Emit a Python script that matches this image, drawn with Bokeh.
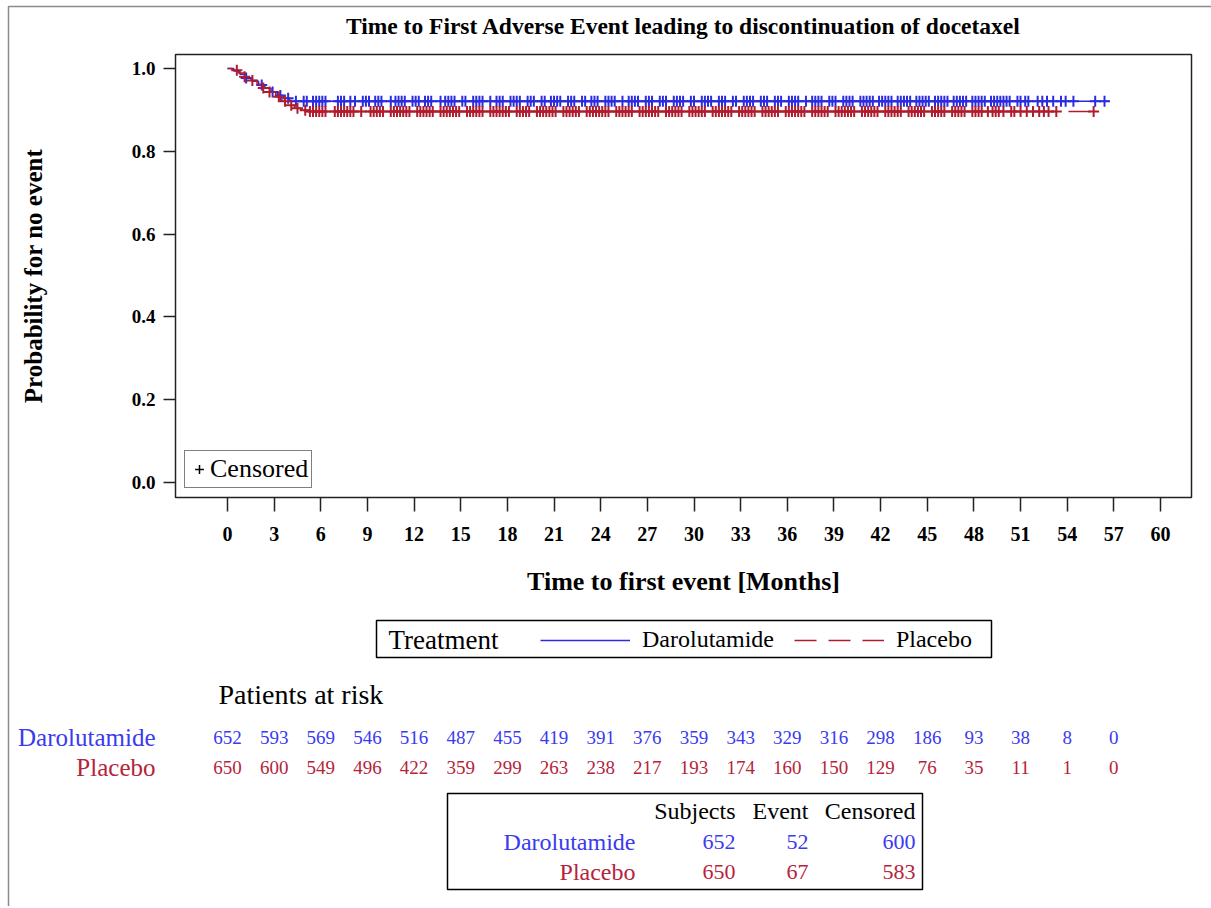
import numpy as np
from bokeh.plotting import figure
from bokeh.models import Range1d, Legend, LegendItem, FixedTicker, ColumnDataSource
from bokeh.embed import file_html
from bokeh.resources import INLINE
from bokeh.core.properties import value

# ---------------- data ----------------
TITLE = "Time to First Adverse Event leading to discontinuation of docetaxel"

x_ticks = [0, 3, 6, 9, 12, 15, 18, 21, 24, 27, 30, 33, 36, 39, 42, 45, 48, 51, 54, 57, 60]
y_ticks = [0.0, 0.2, 0.4, 0.6, 0.8, 1.0]
y_tick_labels = ["0.0", "0.2", "0.4", "0.6", "0.8", "1.0"]

groups = ["Darolutamide", "Placebo"]

daro_t = [0, 0.4, 0.8, 1.2, 1.6, 2.0, 2.4, 2.8, 3.2, 3.6, 4.0, 56.7]
daro_s = [1.0, 0.994, 0.986, 0.977, 0.969, 0.960, 0.952, 0.943, 0.935, 0.928, 0.921, 0.921]

plac_t = [0, 0.3, 0.7, 1.1, 1.5, 1.9, 2.3, 2.7, 3.1, 3.5, 3.9, 4.3, 4.7, 5.2, 56.0]
plac_s = [1.0, 0.996, 0.989, 0.980, 0.971, 0.962, 0.953, 0.943, 0.932, 0.921, 0.911, 0.904, 0.899, 0.896, 0.896]

daro_cens = [1.2, 2.2, 2.9, 3.4, 3.9, 4.4,
             4.9, 5.1, 5.5, 5.7, 5.9, 6.1, 6.3, 7.1, 7.3, 7.5, 7.9, 8.2, 8.7, 8.9, 9.1,
             9.5, 9.7, 9.9, 10.5, 10.8, 11.0, 11.2, 11.4, 11.9, 12.1, 12.3, 12.7, 12.9,
             13.1, 13.7, 14.0, 14.2, 14.4, 14.6, 15.1, 15.3, 15.8, 16.0, 16.2, 16.4, 16.9,
             17.3, 17.5, 17.7, 18.2, 18.4, 18.6, 18.8, 19.3, 19.5, 19.7, 20.2, 20.4, 20.8,
             21.0, 21.2, 21.4, 21.9, 22.1, 22.3, 22.8, 23.0, 23.4, 23.6, 23.8, 24.3, 24.5,
             24.7, 24.9, 25.4, 25.8, 26.0, 26.2, 26.4, 26.9, 27.1, 27.3, 27.8, 28.0, 28.2,
             28.7, 28.9, 29.1, 29.3, 29.8, 30.0, 30.5, 30.7, 30.9, 31.1, 31.6, 31.8, 32.0,
             32.5, 32.7, 33.2, 33.4, 33.6, 33.8, 34.3, 34.5, 34.7, 35.2, 35.4, 35.6, 36.1,
             36.3, 36.5, 36.7, 37.2, 37.6, 37.8, 38.0, 38.2, 38.7, 38.9, 39.1, 39.6, 39.8,
             40.0, 40.2, 40.7, 40.9, 41.1, 41.3, 41.5, 41.9, 42.1, 42.3, 42.5, 42.7, 43.1,
             43.3, 43.5, 43.7, 43.9, 44.3, 44.5, 44.7, 44.9, 45.1, 45.5, 45.7, 45.9, 46.1,
             46.3, 46.7, 46.9, 47.1, 47.3, 47.5, 47.9, 48.1, 48.3, 48.5, 48.7, 49.1, 49.3,
             49.5, 49.7, 49.9, 50.1, 50.3, 50.8, 51.0, 51.3, 51.5, 52.1, 52.4, 52.7, 53.1,
             53.6, 53.9, 54.4, 55.8, 56.4]

plac_cens = [0.6, 1.1, 1.6, 2.3, 2.7, 3.3, 3.7, 4.1, 4.5, 5.0,
             5.3, 5.5, 5.7, 5.9, 6.1, 6.3, 6.9, 7.1, 7.3, 7.5, 7.7, 7.9, 8.1, 8.6, 9.2,
             9.4, 9.6, 9.8, 10.0, 10.5, 10.7, 10.9, 11.1, 11.3, 11.5, 11.7, 12.2, 12.4,
             12.6, 12.8, 13.0, 13.2, 13.7, 13.9, 14.1, 14.3, 14.5, 14.7, 14.9, 15.4, 15.6,
             15.8, 16.0, 16.2, 16.4, 16.9, 17.1, 17.3, 17.5, 17.7, 17.9, 18.1, 18.6, 18.8,
             19.0, 19.2, 19.4, 19.9, 20.1, 20.3, 20.5, 20.7, 20.9, 21.1, 21.6, 21.8, 22.0,
             22.2, 22.4, 22.6, 23.1, 23.3, 23.5, 23.7, 23.9, 24.1, 24.3, 24.5, 25.0, 25.2,
             25.4, 25.6, 25.8, 26.0, 26.5, 26.7, 26.9, 27.1, 27.3, 27.5, 27.7, 28.2, 28.4,
             28.6, 28.8, 29.0, 29.2, 29.7, 29.9, 30.1, 30.3, 30.5, 30.7, 31.2, 31.4, 31.6,
             31.8, 32.0, 32.2, 32.4, 32.9, 33.1, 33.3, 33.5, 33.7, 33.9, 34.4, 34.6, 34.8,
             35.0, 35.2, 35.4, 35.9, 36.1, 36.3, 36.5, 36.7, 36.9, 37.1, 37.6, 37.8, 38.0,
             38.2, 38.4, 38.6, 39.1, 39.3, 39.5, 39.7, 39.9, 40.1, 40.3, 40.8, 41.0, 41.2,
             41.4, 41.6, 41.8, 42.3, 42.5, 42.7, 42.9, 43.1, 43.3, 43.8, 44.0, 44.2, 44.4,
             44.6, 44.8, 45.3, 45.5, 45.7, 45.9, 46.1, 46.6, 46.8, 47.0, 47.2, 47.4, 47.9,
             48.1, 48.3, 48.5, 48.9, 49.2, 49.4, 49.6, 49.9, 50.4, 50.6, 51.0, 51.4, 51.8,
             52.2, 52.5, 52.8, 53.3, 55.7]

risk_times = [0, 3, 6, 9, 12, 15, 18, 21, 24, 27, 30, 33, 36, 39, 42, 45, 48, 51, 54, 57]
risk_daro = [652, 593, 569, 546, 516, 487, 455, 419, 391, 376, 359, 343, 329, 316, 298, 186, 93, 38, 8, 0]
risk_plac = [650, 600, 549, 496, 422, 359, 299, 263, 238, 217, 193, 174, 160, 150, 129, 76, 35, 11, 1, 0]

summary_cols = ["Subjects", "Event", "Censored"]
subjects = [652, 650]
events = [52, 67]
censored = [600, 583]

# ---------------- style / layout (page pixels) ----------------
FONT = "Liberation Serif"
BLUE = "#2b2bdf"
RED = "#ae1c2e"
BLUE_TXT = "#3a3af0"
RED_TXT = "#b5243a"
W, H = 1211, 906
X0_PX, PX_PER_MONTH = 227.0, 15.55      # page x of month 0, pixels per month
Y1_PX, Y0_PX = 68.0, 482.0              # page y of probability 1.0 and 0.0
BOX_L, BOX_R, BOX_T, BOX_B = 175, 1191, 54, 497
NAN = float("nan")


def mx(px):
    return (px - X0_PX) / PX_PER_MONTH


def my(py):
    return (Y0_PX - py) / (Y0_PX - Y1_PX)


def surv_at(times, surv, t):
    times = np.asarray(times)
    surv = np.asarray(surv)
    idx = np.searchsorted(times, np.asarray(t), side="right") - 1
    return surv[idx]


p = figure(width=W, height=H, output_backend="svg", toolbar_location=None,
           x_range=Range1d(mx(0), mx(W)), y_range=Range1d(my(H), my(0)),
           min_border=0, min_border_left=0, min_border_right=0,
           min_border_top=0, min_border_bottom=0)
p.extra_x_ranges = {"px": Range1d(0, W)}
p.extra_y_ranges = {"py": Range1d(H, 0)}
p.background_fill_color = "white"
p.border_fill_color = "white"
p.outline_line_color = None
p.xgrid.visible = False
p.ygrid.visible = False

# page border (top / left)
p.line(x=[8, 8, W], y=[H, 6, 6], x_range_name="px", y_range_name="py",
       line_color="#8a8a8a", line_width=1.5)

# title
p.text(x=[683], y=[25], text=[TITLE], x_range_name="px", y_range_name="py",
       text_align="center", text_baseline="middle", text_font=value(FONT),
       text_font_size="23.5px", text_font_style="bold", text_color="black")

# plot box
p.quad(left=[BOX_L], right=[BOX_R], top=[BOX_T], bottom=[BOX_B],
       x_range_name="px", y_range_name="py", fill_color=None,
       line_color="#222222", line_width=1.5)

# axes at the box edges
p.xaxis.fixed_location = my(BOX_B)
p.yaxis.fixed_location = mx(BOX_L)
p.xaxis.bounds = (mx(BOX_L), mx(BOX_R))
p.yaxis.bounds = (my(BOX_B), my(BOX_T))
p.xaxis.ticker = FixedTicker(ticks=x_ticks)
p.yaxis.ticker = FixedTicker(ticks=y_ticks)
p.yaxis.major_label_overrides = {v: s for v, s in zip(y_ticks, y_tick_labels)}
for ax in (p.xaxis, p.yaxis):
    ax.axis_line_color = None
    ax.major_tick_in = 0
    ax.minor_tick_line_color = None
    ax.major_tick_line_color = "#222222"
    ax.major_tick_line_width = 1.5
    ax.major_label_text_font = FONT
    ax.major_label_text_font_style = "bold"
    ax.major_label_text_color = "black"
    ax.axis_label_text_font = FONT
    ax.axis_label_text_font_style = "bold"
    ax.axis_label_text_color = "black"
p.xaxis.major_label_text_font_size = "20px"
p.yaxis.major_label_text_font_size = "19px"
p.xaxis.major_tick_out = 14
p.xaxis.major_label_standoff = 15
p.xaxis.axis_label = "Time to first event [Months]"
p.xaxis.axis_label_text_font_size = "26px"
p.xaxis.axis_label_standoff = 23
p.yaxis.major_tick_out = 12
p.yaxis.major_label_standoff = 8
p.yaxis.axis_label = "Probability for no event"
p.yaxis.axis_label_text_font_size = "25px"
p.yaxis.axis_label_standoff = 82

# KM curves + censor marks
p.step(x=daro_t, y=daro_s, mode="after", line_color=BLUE, line_width=1.5)
p.scatter(x=daro_cens, y=surv_at(daro_t, daro_s, daro_cens), marker="cross",
          size=11, line_color=BLUE, line_width=2)
p.step(x=plac_t, y=plac_s, mode="after", line_color=RED, line_width=1.5,
       line_dash="22 12")
p.scatter(x=plac_cens, y=surv_at(plac_t, plac_s, plac_cens), marker="cross",
          size=11, line_color=RED, line_width=2)

# "+ Censored" legend
r_c = p.scatter(x=[NAN], y=[NAN], marker="cross", size=11, line_color="black",
                line_width=1.5)
leg_c = Legend(items=[LegendItem(label="Censored", renderers=[r_c])],
               location=(184, H - 488), margin=0, padding=3, spacing=0,
               glyph_width=22, glyph_height=24, label_height=24, label_standoff=0,
               label_text_font=FONT, label_text_font_size="26px",
               label_text_color="black",
               border_line_color="black", border_line_width=1.5,
               background_fill_color="white", background_fill_alpha=1.0)
p.add_layout(leg_c)

# treatment legend
p.quad(left=[376], right=[991], top=[620], bottom=[657], x_range_name="px",
       y_range_name="py", fill_color=None, line_color="black", line_width=1.5)
p.text(x=[388], y=[639], text=["Treatment"], x_range_name="px", y_range_name="py",
       text_align="left", text_baseline="middle", text_font=value(FONT),
       text_font_size="27px", text_color="black")
r_d = p.line(x=[NAN, NAN], y=[NAN, NAN], line_color=BLUE, line_width=1.5)
r_p = p.line(x=[NAN, NAN], y=[NAN, NAN], line_color=RED, line_width=1.5,
             line_dash="22 12")
leg = Legend(items=[LegendItem(label=groups[0], renderers=[r_d]),
                    LegendItem(label=groups[1], renderers=[r_p])],
             orientation="horizontal", location=(540, H - 653), margin=0, padding=0,
             spacing=20, glyph_width=90, glyph_height=20, label_height=20,
             label_standoff=12, label_text_font=FONT, label_text_font_size="24px",
             label_text_color="black",
             border_line_color=None, background_fill_alpha=0)
p.add_layout(leg)

# patients at risk
p.text(x=[218], y=[694], text=["Patients at risk"], x_range_name="px",
       y_range_name="py", text_align="left", text_baseline="middle",
       text_font=value(FONT), text_font_size="28px", text_color="black")
p.text(x="x", y="y", text="t", text_color="c",
       source=ColumnDataSource(dict(x=[155, 155], y=[737, 767], t=groups,
                                    c=[BLUE_TXT, RED_TXT])),
       x_range_name="px", y_range_name="py", text_align="right",
       text_baseline="middle", text_font=value(FONT), text_font_size="25px")
p.text(x=risk_times, y=[737] * len(risk_times), text=[str(v) for v in risk_daro],
       y_range_name="py", text_align="center", text_baseline="middle",
       text_font=value(FONT), text_font_size="19px", text_color=BLUE_TXT)
p.text(x=risk_times, y=[767] * len(risk_times), text=[str(v) for v in risk_plac],
       y_range_name="py", text_align="center", text_baseline="middle",
       text_font=value(FONT), text_font_size="19px", text_color=RED_TXT)

# summary table
p.quad(left=[447], right=[922], top=[793], bottom=[889], x_range_name="px",
       y_range_name="py", fill_color=None, line_color="black", line_width=1.5)
col_x = [735, 808, 915]
p.text(x=col_x, y=[810] * 3, text=summary_cols, x_range_name="px", y_range_name="py",
       text_align="right", text_baseline="middle", text_font=value(FONT),
       text_font_size="24px", text_color="black")
p.text(x="x", y="y", text="t", text_color="c",
       source=ColumnDataSource(dict(x=[635, 635], y=[841, 871], t=groups,
                                    c=[BLUE_TXT, RED_TXT])),
       x_range_name="px", y_range_name="py", text_align="right",
       text_baseline="middle", text_font=value(FONT), text_font_size="24px")
for i, (yy, colr) in enumerate(zip([841, 871], [BLUE_TXT, RED_TXT])):
    vals = [subjects[i], events[i], censored[i]]
    p.text(x=col_x, y=[yy] * 3, text=[str(v) for v in vals], x_range_name="px",
           y_range_name="py", text_align="right", text_baseline="middle",
           text_font=value(FONT), text_font_size="22px", text_color=colr)

open("out.html", "w").write(file_html(p, INLINE))
